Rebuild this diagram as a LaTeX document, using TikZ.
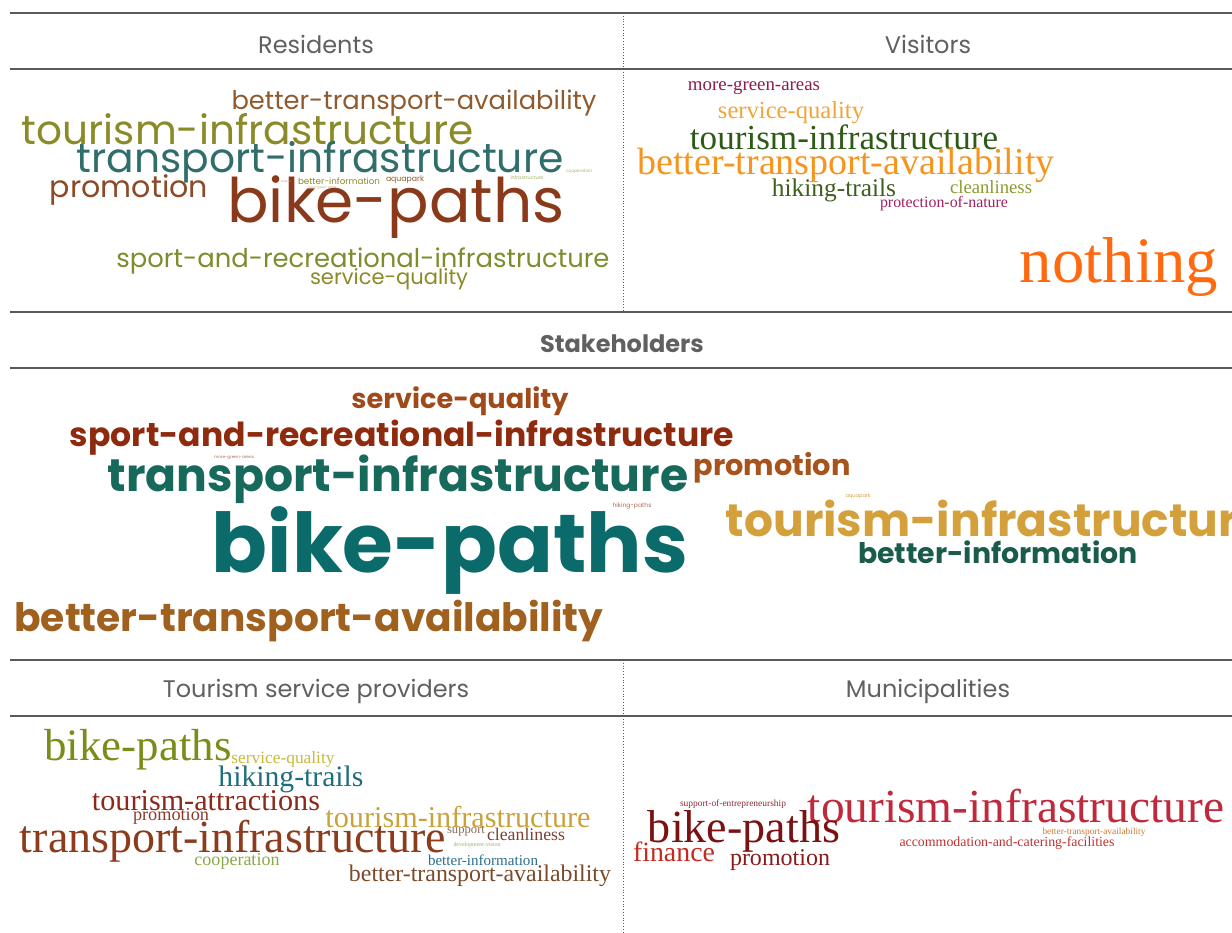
\documentclass[tikz,border=0pt]{standalone}
\usepackage{xcolor}
\usepackage{graphicx}
\usepackage{fontspec}
\usepackage{tikz}
\usetikzlibrary{positioning}

\newfontfamily\headsans{Poppins}
\newfontfamily\cloudsans{Poppins}
\newfontfamily\cloudserif{Liberation Serif}
\newcommand{\cw}[2]{\resizebox{#1pt}{!}{#2}}

\definecolor{rulegray}{HTML}{5A5A5A}
\definecolor{headgray}{HTML}{606060}
% residents
\definecolor{resbrownA}{HTML}{8F5A2E}
\definecolor{resolive}{HTML}{8A8A28}
\definecolor{resteal}{HTML}{2F6E6A}
\definecolor{resbrown}{HTML}{8B4A28}
\definecolor{resrust}{HTML}{8A3A1A}
\definecolor{resgreen}{HTML}{7A8E2C}
% visitors
\definecolor{vismaroon}{HTML}{8E1C4E}
\definecolor{vislightorange}{HTML}{F2A33A}
\definecolor{visdarkgreen}{HTML}{2E5A16}
\definecolor{visorange}{HTML}{F7941D}
\definecolor{visgreen}{HTML}{3E5E1E}
\definecolor{visolive}{HTML}{8C9A2E}
\definecolor{vismagenta}{HTML}{A02060}
\definecolor{visbright}{HTML}{FF6A10}
% stakeholders
\definecolor{stkbrown}{HTML}{A04A1A}
\definecolor{stkdarkred}{HTML}{8E2A0E}
\definecolor{stkteal}{HTML}{17695C}
\definecolor{stkpromo}{HTML}{A8521C}
\definecolor{stkbike}{HTML}{0B6B6B}
\definecolor{stkgold}{HTML}{D4A03C}
\definecolor{stkinfo}{HTML}{1A5C4C}
\definecolor{stkavail}{HTML}{A0601E}
% tourism service providers
\definecolor{tspolive}{HTML}{7C8C1A}
\definecolor{tspyellow}{HTML}{C8B83C}
\definecolor{tspteal}{HTML}{1E6E7E}
\definecolor{tspred}{HTML}{8B2A1A}
\definecolor{tsppromo}{HTML}{8B3A2A}
\definecolor{tspgold}{HTML}{C9A23A}
\definecolor{tsptransport}{HTML}{8C3C1C}
\definecolor{tspsupport}{HTML}{8A6A5A}
\definecolor{tspclean}{HTML}{7A4030}
\definecolor{tspdev}{HTML}{9AB06A}
\definecolor{tspcoop}{HTML}{8AA848}
\definecolor{tspinfo}{HTML}{2A6E8E}
\definecolor{tspavail}{HTML}{7A4A2A}
% municipalities
\definecolor{munmaroon}{HTML}{8A2A3A}
\definecolor{muncrimson}{HTML}{C0283C}
\definecolor{mundark}{HTML}{7A1212}
\definecolor{munred}{HTML}{C42A20}
\definecolor{munpromo}{HTML}{8A1A1A}
\definecolor{munorange}{HTML}{D0782A}
\definecolor{munacc}{HTML}{C03030}

\begin{document}
\begin{tikzpicture}[
			x = 1pt, y = -1pt,
			rule/.style = {draw=rulegray, line width=2pt},
			divider/.style = {draw=rulegray, dotted, line width=0.8pt},
			head/.style = {font=\headsans\fontsize{24}{24}\selectfont, text=headgray},
			word/.style = {inner sep=0pt, anchor=center},
			res/.style = {word, font=\cloudsans},
			vis/.style = {word, font=\cloudserif},
			stk/.style = {word, font=\cloudsans\bfseries},
			tsp/.style = {word, font=\cloudserif},
			mun/.style = {word, font=\cloudserif}]

			\clip (0,0) rectangle (1232,933);

			\foreach \y in {13,69,312,368,660,716}
				\draw[rule] (10,\y) -- (1232,\y);
			\draw[divider] (623,13) -- (623,312);
			\draw[divider] (623,660) -- (623,933);

			\node[head] (residents) at (316,44) {Residents};
			\node[head] (visitors) at (928,44) {Visitors};
			\node[head, font=\headsans\bfseries\fontsize{24}{24}\selectfont] (stakeholders) at (622,344) {Stakeholders};
			\node[head] (providers) at (316,691) {Tourism service providers};
			\node[head] (municipalities) at (928,691) {Municipalities};

			\node[res, text=resbrownA] (r-avail) at (414,103) {\cw{365}{better-transport-availability}};
			\node[res, text=resolive] (r-tourism) at (248,129) {\cw{452}{tourism-infrastructure}};
			\node[res, text=resteal] (r-transport) at (320,162) {\cw{487}{transport-infrastructure}};
			\node[res, text=resbrown] (r-promo) at (129,190) {\cw{158}{promotion}};
			\node[res, text=resrust] (r-bike) at (396,207) {\cw{337}{bike-paths}};
			\node[res, text=resgreen] (r-sport) at (363,261) {\cw{493}{sport-and-recreational-infrastructure}};
			\node[res, text=resolive] (r-quality) at (389,279) {\cw{158}{service-quality}};
			\node[res, text=resbrownA!60] (r-events) at (286,181) {\cw{10}{events}};
			\node[res, text=resolive] (r-info) at (339,181) {\cw{82}{better-information}};
			\node[res, text=resbrownA] (r-aqua) at (405,180) {\cw{38}{aquapark}};
			\node[res, text=resolive!70] (r-green) at (322,188) {\cw{29}{more-green-areas}};
			\node[res, text=resgreen!70] (r-infra) at (527,178) {\cw{33}{infrastructure}};
			\node[res, text=resolive!70] (r-coop) at (579,171) {\cw{26}{cooperation}};

			\node[vis, text=vismaroon] (v-green) at (754,88) {\cw{132}{more-green-areas}};
			\node[vis, text=vislightorange] (v-quality) at (791,113) {\cw{146}{service-quality}};
			\node[vis, text=visdarkgreen] (v-tourism) at (844,137) {\cw{308}{tourism-infrastructure}};
			\node[vis, text=visorange] (v-avail) at (846,165) {\cw{417}{better-transport-availability}};
			\node[vis, text=visgreen] (v-hiking) at (834,190) {\cw{124}{hiking-trails}};
			\node[vis, text=visolive] (v-clean) at (991,187) {\cw{82}{cleanliness}};
			\node[vis, text=vismagenta] (v-nature) at (944,204) {\cw{128}{protection-of-nature}};
			\node[vis, text=visbright] (v-nothing) at (1119,267) {\cw{198}{nothing}};

			\node[stk, text=stkbrown] (s-quality) at (460,401) {\cw{217}{service-quality}};
			\node[stk, text=stkdarkred] (s-sport) at (402,438) {\cw{664}{sport-and-recreational-infrastructure}};
			\node[stk, text=stkteal] (s-transport) at (398,479) {\cw{580}{transport-infrastructure}};
			\node[stk, text=stkpromo] (s-promo) at (772,468) {\cw{157}{promotion}};
			\node[stk, text=stkbike] (s-bike) at (450,550) {\cw{476}{bike-paths}};
			\node[stk, text=stkgold] (s-tourism) at (996,518) {\cw{540}{tourism-infrastructure}};
			\node[stk, text=stkinfo] (s-info) at (998,552) {\cw{280}{better-information}};
			\node[stk, text=stkavail] (s-avail) at (309,621) {\cw{589}{better-transport-availability}};
			\node[stk, text=stkdarkred!70, font=\cloudsans] (s-green) at (234,458) {\cw{40}{more-green-areas}};
			\node[stk, text=stkdarkred!70, font=\cloudsans] (s-hiking) at (632,506) {\cw{39}{hiking-paths}};
			\node[stk, text=stkgold, font=\cloudsans] (s-aqua) at (858,496) {\cw{25}{aquapark}};

			\node[tsp, text=tspolive] (t-bike) at (138,750) {\cw{187}{bike-paths}};
			\node[tsp, text=tspyellow] (t-quality) at (283,759) {\cw{103}{service-quality}};
			\node[tsp, text=tspteal] (t-hiking) at (291,779) {\cw{145}{hiking-trails}};
			\node[tsp, text=tspred] (t-attract) at (206,801) {\cw{228}{tourism-attractions}};
			\node[tsp, text=tsppromo] (t-promo) at (171,816) {\cw{76}{promotion}};
			\node[tsp, text=tspgold] (t-tourism) at (458,817) {\cw{265}{tourism-infrastructure}};
			\node[tsp, text=tsptransport] (t-transport) at (233,841) {\cw{426}{transport-infrastructure}};
			\node[tsp, text=tspsupport] (t-support) at (466,831) {\cw{38}{support}};
			\node[tsp, text=tspclean] (t-clean) at (526,834) {\cw{78}{cleanliness}};
			\node[tsp, text=tspdev] (t-dev) at (477,845) {\cw{47}{development-vision}};
			\node[tsp, text=tspcoop] (t-coop) at (237,861) {\cw{85}{cooperation}};
			\node[tsp, text=tspinfo] (t-info) at (483,860) {\cw{110}{better-information}};
			\node[tsp, text=tspavail] (t-avail) at (480,876) {\cw{262}{better-transport-availability}};

			\node[mun, text=munmaroon] (m-support) at (733,804) {\cw{106}{support-of-entrepreneurship}};
			\node[mun, text=muncrimson] (m-tourism) at (1016,806) {\cw{416}{tourism-infrastructure}};
			\node[mun, text=mundark] (m-bike) at (744,831) {\cw{192}{bike-paths}};
			\node[mun, text=munred] (m-finance) at (674,852) {\cw{82}{finance}};
			\node[mun, text=munpromo] (m-promo) at (780,860) {\cw{100}{promotion}};
			\node[mun, text=munorange] (m-avail) at (1094,832) {\cw{103}{better-transport-availability}};
			\node[mun, text=munacc] (m-acc) at (1007,843) {\cw{215}{accommodation-and-catering-facilities}};

		\end{tikzpicture}
\end{document}
